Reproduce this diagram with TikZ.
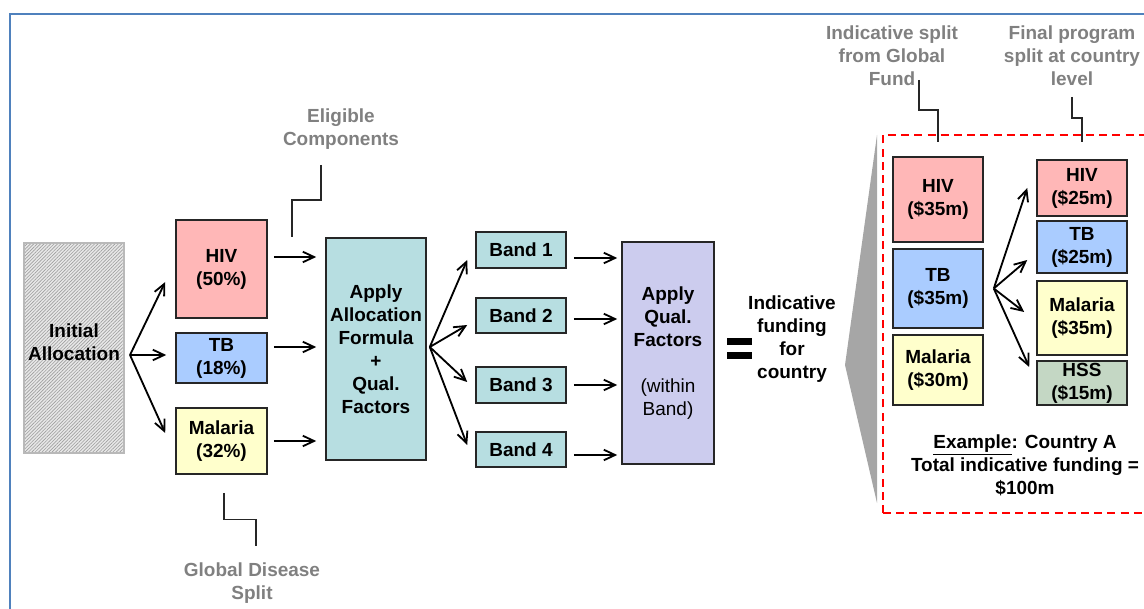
\documentclass[tikz,border=0pt]{standalone}
\usepackage{fontspec}
\setmainfont{Liberation Sans}
\usetikzlibrary{arrows.meta, calc, positioning, patterns.meta}
\definecolor{framecolor}{RGB}{79,129,189}
\definecolor{hivpink}{RGB}{255,183,183}
\definecolor{tbblue}{RGB}{170,204,255}
\definecolor{malyellow}{RGB}{255,255,204}
\definecolor{formulateal}{RGB}{183,222,225}
\definecolor{quallilac}{RGB}{204,204,238}
\definecolor{hssgreen}{RGB}{196,215,196}
\definecolor{labelgray}{RGB}{128,128,128}
\definecolor{zoomgray}{RGB}{166,166,166}
\tikzset{
  >={Straight Barb[length=8pt,width=7.5pt]},
  flowarrow/.style={->, line width=1.3pt, black},
  box/.style={draw=black!85, line width=1.1pt, inner sep=0pt,
              align=center, font=\bfseries\fontsize{13.5}{16.4}\selectfont},
  bandbox/.style={box, fill=formulateal, minimum width=2.25cm},
  leader/.style={draw=black!85, line width=0.9pt},
  graylabel/.style={text=labelgray, align=center, inner sep=0pt,
                    font=\bfseries\fontsize{13.5}{16.4}\selectfont},
  plaintext/.style={align=center, inner sep=0pt,
                    font=\bfseries\fontsize{13.5}{16.4}\selectfont},
}
\begin{document}
\begin{tikzpicture}[x=0.025cm, y=-0.025cm]
  \useasboundingbox (0,0) rectangle (1144,609);
  % slide frame
  \draw[framecolor, line width=1.5pt] (10,640) -- (10,14) -- (1180,14);

  % initial allocation and global disease split
  \node[box, draw=gray!55, line width=0.8pt, preaction={fill=gray!18},
        pattern={Lines[angle=45,distance=1.7pt,line width=0.45pt]},
        pattern color=gray!75, minimum width=2.5cm, minimum height=5.25cm]
    (init) at (74,348) {};
  \node[plaintext] (initlbl) at (74,342.5) {Initial\\Allocation};
  \node[box, fill=hivpink, minimum width=2.275cm, minimum height=2.45cm]
    (hiv) at (221.5,269) {HIV\\(50\%)};
  \node[box, fill=tbblue, minimum width=2.275cm, minimum height=1.25cm]
    (tb) at (221.5,358) {TB\\(18\%)};
  \node[box, fill=malyellow, minimum width=2.275cm, minimum height=1.65cm]
    (mal) at (221.5,441) {Malaria\\(32\%)};
  \coordinate (isplit) at (130,355);
  \draw[flowarrow] (isplit) -- ([shift={(-10,13)}]hiv.west);
  \draw[flowarrow] (isplit) -- ([shift={(-9,-3)}]tb.west);
  \draw[flowarrow] (isplit) -- ([shift={(-10,-8)}]mal.west);

  % allocation formula
  \node[box, fill=formulateal, minimum width=2.5cm, minimum height=5.55cm]
    (formula) at (376,349)
    {Apply\\Allocation\\Formula\\+\\Qual.\\Factors};
  \draw[flowarrow] ([shift={(6,-12)}]hiv.east)
    -- ([shift={(-9,-12)}]formula.west |- hiv.east);
  \draw[flowarrow] ([shift={(6,-11)}]tb.east)
    -- ([shift={(-9,-11)}]formula.west |- tb.east);
  \draw[flowarrow] ([xshift=0.15cm]mal.east)
    -- ([xshift=-0.225cm]formula.west |- mal.east);

  % bands
  \node[bandbox, minimum height=0.9cm] (band1) at (521,250) {Band 1};
  \node[bandbox, minimum height=0.875cm] (band2) at (521,315.5) {Band 2};
  \node[bandbox, minimum height=0.9cm] (band3) at (521,385) {Band 3};
  \node[bandbox, minimum height=0.875cm] (band4) at (521,449.5) {Band 4};
  \coordinate (fsplit) at ([shift={(3,-2)}]formula.east);
  \draw[flowarrow] (fsplit) -- ([shift={(-8,10)}]band1.west);
  \draw[flowarrow] (fsplit) -- ([shift={(-8,9.5)}]band2.west);
  \draw[flowarrow] (fsplit) -- ([shift={(-8,-3)}]band3.west);
  \draw[flowarrow] (fsplit) -- ([shift={(-8,-4.5)}]band4.west);

  % qualitative factors
  \node[box, fill=quallilac, minimum width=2.3cm, minimum height=5.55cm]
    (qual) at (668,353)
    {Apply\\Qual.\\Factors\\[16.4pt]{\mdseries (within}\\{\mdseries Band)}};
  \draw[flowarrow] ([shift={(7,8)}]band1.east)
    -- ([shift={(-4,8)}]qual.west |- band1.east);
  \draw[flowarrow] ([shift={(7,3.5)}]band2.east)
    -- ([shift={(-4,3.5)}]qual.west |- band2.east);
  \draw[flowarrow] ([xshift=0.175cm]band3.east)
    -- ([xshift=-0.1cm]qual.west |- band3.east);
  \draw[flowarrow] ([shift={(7,5.5)}]band4.east)
    -- ([shift={(-4,5.5)}]qual.west |- band4.east);

  % equals sign and result
  \fill (727,338) rectangle (752,345);
  \fill (727,352) rectangle (752,359);
  \node[plaintext] (result) at (792,339.5)
    {Indicative\\funding\\for\\country};

  % zoom onto the example
  \fill[zoomgray] (877,135) -- (845,365) -- (877,503) -- cycle;
  \draw[red, line width=1.4pt, dash pattern=on 0.2cm off 0.13cm]
    (883,513) -- (883,135) -- (1180,135);
  \draw[red, line width=1.4pt, dash pattern=on 0.2cm off 0.13cm]
    (883,513) -- (1180,513);

  \node[box, fill=hivpink, minimum width=2.25cm, minimum height=2.125cm]
    (ihiv) at (938,199.5) {HIV\\(\$35m)};
  \node[box, fill=tbblue, minimum width=2.25cm, minimum height=1.975cm]
    (itb) at (938,288.5) {TB\\(\$35m)};
  \node[box, fill=malyellow, minimum width=2.25cm, minimum height=1.75cm]
    (imal) at (938,370) {Malaria\\(\$30m)};

  \node[box, fill=hivpink, minimum width=2.25cm, minimum height=1.4cm]
    (fhiv) at (1082,188) {HIV\\(\$25m)};
  \node[box, fill=tbblue, minimum width=2.25cm, minimum height=1.3cm]
    (ftb) at (1082,247) {TB\\(\$25m)};
  \node[box, fill=malyellow, minimum width=2.25cm, minimum height=1.85cm]
    (fmal) at (1082,318) {Malaria\\(\$35m)};
  \node[box, fill=hssgreen, minimum width=2.25cm, minimum height=1.1cm]
    (fhss) at (1082,383) {HSS\\(\$15m)};
  \coordinate (tsplit) at ([xshift=0.25cm]itb.east);
  \draw[flowarrow] (tsplit) -- ([xshift=-0.225cm]fhiv.west);
  \draw[flowarrow] (tsplit) -- ([shift={(-9,13)}]ftb.west);
  \draw[flowarrow] (tsplit) -- ([shift={(-12,-6)}]fmal.west);
  \draw[flowarrow] (tsplit) -- ([shift={(-7,-16)}]fhss.west);

  \node[plaintext] (example) at (1025,465)
    {\underline{Example}: Country A\\Total indicative funding =\\\$100m};

  % gray call-outs
  \node[graylabel] (elig) at (341,129.5) {Eligible\\Components};
  \draw[leader] (elig.center) ++(-20,35.5) |- ++(-29,35) -- ++(0,37);
  \node[graylabel] (globlbl) at (252,583.5) {Global Disease\\Split};
  \draw[leader] ([shift={(2.5,18)}]mal.south) |- ++(32,27) -- ++(0,26);
  \node[graylabel] (indlbl) at (892,56)
    {Indicative split\\from Global\\Fund};
  \draw[leader] (indlbl.center) ++(27,24) |- ++(19,30) -- ++(0,32);
  \node[graylabel] (finlbl) at (1072,56)
    {Final program\\split at country\\level};
  \draw[leader] (finlbl.center) ++(0,41) |- ++(10,21) -- ++(0,24);
\end{tikzpicture}
\end{document}
